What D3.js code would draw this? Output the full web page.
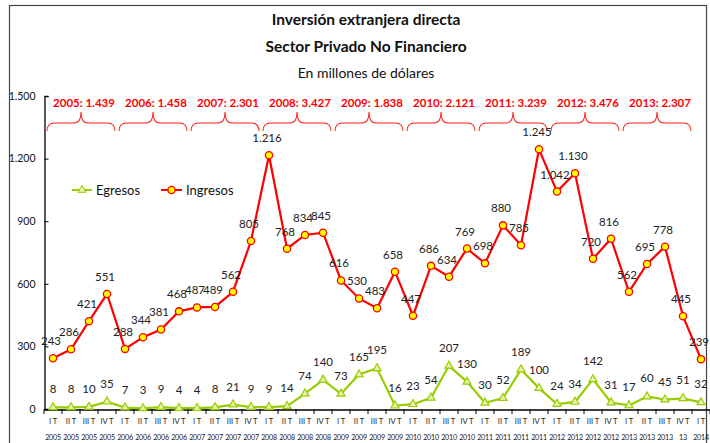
<!DOCTYPE html>
<html><head><meta charset="utf-8">
<script src="https://cdn.jsdelivr.net/npm/d3@7"></script>
<style>
html,body{margin:0;padding:0;background:#fff;}
svg{display:block;font-family:Lato,"Open Sans",sans-serif;}
</style></head>
<body><svg id="c" width="710" height="443"></svg>
<script>
const quarterLabels = ["I T","II T","III T","IV T","I T","II T","III T","IV T","I T","II T","III T","IV T","I T","II T","III T","IV T","I T","II T","III T","IV T","I T","II T","III T","IV T","I T","II T","III T","IV T","I T","II T","III T","IV T","I T","II T","III T","IV T","I T"];
const yearLabels = ["2005","2005","2005","2005","2006","2006","2006","2006","2007","2007","2007","2007","2008","2008","2008","2008","2009","2009","2009","2009","2010","2010","2010","2010","2011","2011","2011","2011","2012","2012","2012","2012","2013","2013","2013","13","2014"];
const ingresos = [243,286,421,551,288,344,381,468,487,489,562,805,1216,768,834,845,616,530,483,658,447,686,634,769,698,880,785,1245,1042,1130,720,816,562,695,778,445,239];
const egresos = [8,8,10,35,7,3,9,4,4,8,21,9,9,14,74,140,73,165,195,16,23,54,207,130,30,52,189,100,24,34,142,31,17,60,45,51,32];
const yTicks = [0,300,600,900,1200,1500];
const annualYears = ["2005","2006","2007","2008","2009","2010","2011","2012","2013"];
const annualTotals = [1439,1458,2301,3427,1838,2121,3239,3476,2307];

const loc = d3.formatLocale({decimal:",", thousands:".", grouping:[3], currency:["",""]});
const fmt = loc.format(",d");

const svg = d3.select("#c");
const x = d3.scaleBand().domain(d3.range(ingresos.length)).range([44, 710]);
const y = d3.scaleLinear().domain([0,1500]).range([409, 96]);
const cx = i => x(i) + x.bandwidth()/2;

// frame
svg.append("rect").attr("x",9.5).attr("y",5.5).attr("width",697).attr("height",450)
  .attr("fill","none").attr("stroke","#444").attr("stroke-width",1.2);

// titles
const T = svg.append("g").attr("text-anchor","middle").attr("fill","#111");
T.append("text").attr("x",366).attr("y",25).attr("font-weight","bold").attr("font-size",15.5).text("Inversión extranjera directa");
T.append("text").attr("x",366).attr("y",52).attr("font-weight","bold").attr("font-size",15.5).text("Sector Privado No Financiero");
T.append("text").attr("x",366).attr("y",78).attr("font-size",14).text("En millones de dólares");

// y axis
const ya = svg.append("g").attr("transform","translate(44.5,0)")
  .call(d3.axisLeft(y).tickValues(yTicks).tickSize(-4).tickPadding(9).tickFormat(fmt));
ya.select(".domain").attr("stroke","#000").attr("stroke-width",1.3);
ya.selectAll(".tick line").attr("stroke","#000");
ya.selectAll("text").attr("font-size",10.5).attr("fill","#111").attr("font-family","Lato,sans-serif");

// x axis
const xa = svg.append("g").attr("transform","translate(0,409.5)")
  .call(d3.axisBottom(x).tickSize(0).tickFormat(""));
xa.select(".domain").attr("stroke","#000").attr("stroke-width",1.3);
svg.append("g").selectAll("line").data(d3.range(ingresos.length+1)).join("line")
  .attr("x1",i=> i<ingresos.length ? x(i) : x(i-1)+x.bandwidth())
  .attr("x2",i=> i<ingresos.length ? x(i) : x(i-1)+x.bandwidth())
  .attr("y1",409).attr("y2",414).attr("stroke","#000");
svg.append("g").selectAll("text").data(quarterLabels).join("text")
  .attr("x",(d,i)=>cx(i)).attr("y",424).attr("text-anchor","middle")
  .attr("font-size",7.5).attr("fill","#222").text(d=>d);
svg.append("g").selectAll("text").data(yearLabels).join("text")
  .attr("x",(d,i)=>cx(i)).attr("y",440).attr("text-anchor","middle")
  .attr("font-size",7.2).attr("letter-spacing",-0.25).attr("fill","#222").text(d=>d);

// braces
const bg = svg.append("g");
annualYears.forEach((yr,k)=>{
  const x0 = x(k*4)+3, x1 = x(k*4+3)+x.bandwidth()-1, xm=(x0+x1)/2;
  const yb=131, yh=123, yt=112;
  const p = `M${x0},${yb} Q${x0},${yh} ${x0+8},${yh} L${xm-7},${yh} Q${xm},${yh} ${xm},${yt} Q${xm},${yh} ${xm+7},${yh} L${x1-8},${yh} Q${x1},${yh} ${x1},${yb}`;
  bg.append("path").attr("d",p).attr("fill","none").attr("stroke","#ff2020").attr("stroke-width",1.1);
  bg.append("text").attr("x",xm+3).attr("y",107).attr("text-anchor","middle")
    .attr("font-size",11.5).attr("font-weight","bold").attr("fill","#ff0000")
    .text(yr+": "+fmt(annualTotals[k]));
});

// lines
const line = d3.line().x((d,i)=>cx(i)).y(d=>y(d));
svg.append("path").datum(egresos).attr("d",line).attr("fill","none").attr("stroke","#99cc00").attr("stroke-width",2.2);
svg.append("path").datum(ingresos).attr("d",line).attr("fill","none").attr("stroke","#ff0000").attr("stroke-width",2.2);

const tri = d3.symbol().type(d3.symbolTriangle).size(28);
svg.append("g").selectAll("path").data(egresos).join("path")
  .attr("d",tri).attr("transform",(d,i)=>`translate(${cx(i)},${y(d)})`)
  .attr("fill","#e4f5b0").attr("stroke","#99cc00").attr("stroke-width",1.2);
svg.append("g").selectAll("circle").data(ingresos).join("circle")
  .attr("cx",(d,i)=>cx(i)).attr("cy",d=>y(d)).attr("r",3.6)
  .attr("fill","#ffff00").attr("stroke","#ff0000").attr("stroke-width",1.3);

// data labels
svg.append("g").selectAll("text").data(egresos).join("text")
  .attr("x",(d,i)=>cx(i)).attr("y",d=>y(d)-14).attr("text-anchor","middle")
  .attr("font-size",11.5).attr("fill","#222").text(d=>fmt(d));
svg.append("g").selectAll("text").data(ingresos).join("text")
  .attr("x",(d,i)=>cx(i)-2).attr("y",d=>y(d)-13).attr("text-anchor","middle")
  .attr("font-size",11.5).attr("fill","#222").text(d=>fmt(d));

// legend
const lg = svg.append("g").attr("font-size",13).attr("fill","#111");
lg.append("line").attr("x1",72).attr("x2",92).attr("y1",190).attr("y2",190).attr("stroke","#99cc00").attr("stroke-width",2);
lg.append("path").attr("d",tri).attr("transform","translate(82,190)").attr("fill","#e4f5b0").attr("stroke","#99cc00");
lg.append("text").attr("x",96).attr("y",195).text("Egresos");
lg.append("line").attr("x1",161).attr("x2",182).attr("y1",190).attr("y2",190).attr("stroke","#ff0000").attr("stroke-width",2);
lg.append("circle").attr("cx",171.5).attr("cy",190).attr("r",3.6).attr("fill","#ffff00").attr("stroke","#ff0000").attr("stroke-width",1.3);
lg.append("text").attr("x",186).attr("y",195).text("Ingresos");
</script></body></html>
